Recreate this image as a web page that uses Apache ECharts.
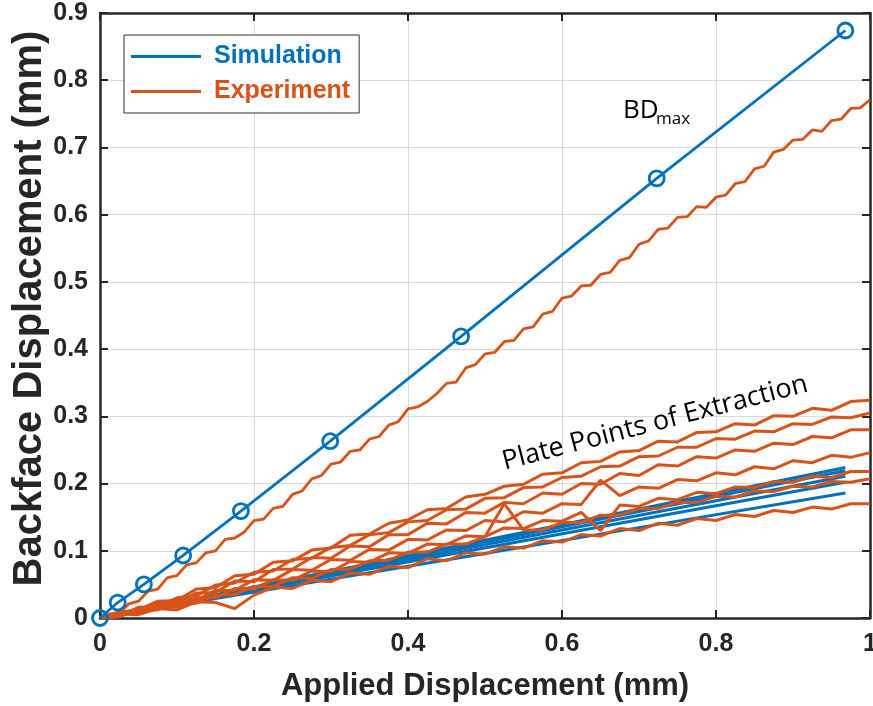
<!DOCTYPE html>
<html>
<head>
<meta charset="utf-8">
<script src="https://cdn.jsdelivr.net/npm/echarts@6/dist/echarts.min.js"></script>
<style>
html,body{margin:0;padding:0;background:#fff;}
#chart{width:873px;height:706px;}
</style>
</head>
<body>
<div id="chart"></div>
<script>
// ---- Data ----
var xTicks = [0, 0.2, 0.4, 0.6, 0.8, 1];
var yTicks = [0, 0.1, 0.2, 0.3, 0.4, 0.5, 0.6, 0.7, 0.8, 0.9];

// Simulation time steps (applied displacement)
var simX = [0, 0.023, 0.057, 0.108, 0.183, 0.299, 0.469, 0.723, 0.968];
// Simulation BDmax
var simMax = [0, 0.023, 0.050, 0.093, 0.159, 0.263, 0.419, 0.654, 0.874];
// Simulation plate points
var simP1 = [0, 0.0053, 0.0132, 0.0250, 0.0424, 0.0692, 0.1085, 0.1673, 0.224];
var simP2 = [0, 0.0052, 0.0129, 0.0244, 0.0414, 0.0677, 0.1061, 0.1636, 0.219];
var simP3 = [0, 0.0050, 0.0124, 0.0235, 0.0399, 0.0652, 0.1022, 0.1576, 0.211];
var simP4 = [0, 0.0048, 0.0119, 0.0225, 0.0382, 0.0624, 0.0979, 0.1509, 0.202];
var simP5 = [0, 0.0044, 0.0110, 0.0207, 0.0352, 0.0575, 0.0901, 0.1389, 0.186];

// Experiment BDmax (x step 0.0125)
var expMaxX = [0,0.0125,0.025,0.0375,0.05,0.0625,0.075,0.0875,0.1,0.1125,0.125,0.1375,0.15,0.1625,0.175,0.1875,0.2,0.2125,0.225,0.2375,0.25,0.2625,0.275,0.2875,0.3,0.3125,0.325,0.3375,0.35,0.3625,0.375,0.3875,0.4,0.4125,0.425,0.4375,0.45,0.4625,0.475,0.4875,0.5,0.5125,0.525,0.5375,0.55,0.5625,0.575,0.5875,0.6,0.6125,0.625,0.6375,0.65,0.6625,0.675,0.6875,0.7,0.7125,0.725,0.7375,0.75,0.7625,0.775,0.7875,0.8,0.8125,0.825,0.8375,0.85,0.8625,0.875,0.8875,0.9,0.9125,0.925,0.9375,0.95,0.9625,0.975,0.9875,1];
var expMax = [0,0.006,0.008,0.021,0.025,0.040,0.043,0.060,0.063,0.079,0.082,0.097,0.100,0.117,0.119,0.128,0.145,0.147,0.163,0.166,0.184,0.189,0.207,0.212,0.229,0.232,0.248,0.250,0.266,0.270,0.287,0.292,0.311,0.314,0.322,0.334,0.349,0.351,0.372,0.377,0.393,0.395,0.411,0.413,0.430,0.433,0.452,0.456,0.476,0.479,0.494,0.495,0.511,0.514,0.532,0.536,0.556,0.561,0.578,0.580,0.596,0.597,0.612,0.611,0.626,0.629,0.646,0.649,0.668,0.672,0.693,0.697,0.711,0.712,0.726,0.724,0.740,0.742,0.758,0.759,0.771];

// Experiment plate points (x step 0.025)
var expPX = [0,0.025,0.05,0.075,0.1,0.125,0.15,0.175,0.2,0.225,0.25,0.275,0.3,0.325,0.35,0.375,0.4,0.425,0.45,0.475,0.5,0.525,0.55,0.575,0.6,0.625,0.65,0.675,0.7,0.725,0.75,0.775,0.8,0.825,0.85,0.875,0.9,0.925,0.95,0.975,1];
var expA = [0,0.009,0.012,0.025,0.026,0.043,0.045,0.063,0.065,0.083,0.085,0.101,0.104,0.123,0.125,0.141,0.146,0.161,0.163,0.180,0.184,0.196,0.199,0.214,0.216,0.231,0.233,0.247,0.249,0.263,0.262,0.276,0.277,0.289,0.287,0.301,0.300,0.312,0.309,0.322,0.324];
var expB = [0,0.003,0.016,0.017,0.030,0.033,0.049,0.052,0.068,0.070,0.087,0.089,0.105,0.108,0.124,0.127,0.143,0.145,0.161,0.162,0.178,0.179,0.194,0.195,0.209,0.211,0.225,0.226,0.240,0.241,0.254,0.254,0.267,0.266,0.278,0.277,0.289,0.288,0.299,0.298,0.305];
var expC = [0,0.008,0.010,0.022,0.021,0.037,0.038,0.055,0.054,0.072,0.073,0.090,0.089,0.107,0.106,0.124,0.124,0.141,0.140,0.157,0.156,0.172,0.170,0.186,0.184,0.200,0.199,0.215,0.212,0.228,0.226,0.240,0.238,0.250,0.248,0.260,0.258,0.270,0.268,0.280,0.280];
var expD = [0,0.002,0.014,0.013,0.026,0.026,0.041,0.041,0.057,0.056,0.072,0.071,0.087,0.086,0.102,0.101,0.117,0.116,0.131,0.130,0.145,0.143,0.158,0.156,0.170,0.169,0.205,0.182,0.195,0.193,0.206,0.204,0.216,0.213,0.225,0.222,0.234,0.231,0.242,0.239,0.246];
var expE = [0,0.007,0.007,0.018,0.016,0.030,0.030,0.044,0.043,0.057,0.056,0.070,0.069,0.084,0.083,0.097,0.096,0.110,0.109,0.122,0.121,0.134,0.133,0.145,0.144,0.157,0.130,0.168,0.166,0.178,0.176,0.187,0.185,0.195,0.194,0.203,0.202,0.211,0.209,0.218,0.218];
var expF = [0,0.002,0.011,0.012,0.021,0.022,0.034,0.035,0.047,0.047,0.060,0.059,0.072,0.073,0.085,0.086,0.098,0.098,0.110,0.110,0.121,0.170,0.131,0.131,0.142,0.142,0.153,0.153,0.163,0.163,0.172,0.172,0.181,0.180,0.189,0.188,0.196,0.195,0.203,0.202,0.207];
var expG = [0,0.006,0.005,0.014,0.012,0.024,0.023,0.014,0.034,0.046,0.044,0.056,0.054,0.067,0.065,0.077,0.075,0.088,0.085,0.097,0.095,0.106,0.104,0.115,0.113,0.124,0.122,0.133,0.130,0.141,0.138,0.148,0.145,0.154,0.151,0.160,0.157,0.165,0.162,0.170,0.170];

// ---- Chart ----
var BLUE = '#0072BD', ORANGE = '#D95319', AX = '#262626';
var FONT = '"Liberation Sans", Arial, sans-serif';

function pairs(xs, ys) { return xs.map(function (x, i) { return [x, ys[i]]; }); }

function lineSeries(name, xs, ys, color, width, z) {
  return {
    name: name, type: 'line', data: pairs(xs, ys), showSymbol: false, symbol: 'none',
    lineStyle: { color: color, width: width }, itemStyle: { color: color },
    z: z, animation: false, silent: true
  };
}

var series = [];
[simP1, simP2, simP3, simP4, simP5].forEach(function (ys) {
  series.push(lineSeries('Simulation', simX, ys, BLUE, 3, 2));
});
[expA, expB, expC, expD, expE, expF, expG].forEach(function (ys) {
  series.push(lineSeries('Experiment', expPX, ys, ORANGE, 3, 3));
});
series.push(lineSeries('Experiment', expMaxX, expMax, ORANGE, 2.8, 4));
series.push({
  name: 'Simulation', type: 'line', data: pairs(simX, simMax),
  symbol: 'circle', symbolSize: 15, showSymbol: true,
  lineStyle: { color: BLUE, width: 2.8 },
  itemStyle: { color: 'rgba(0,0,0,0)', borderColor: BLUE, borderWidth: 2.8 },
  z: 5, animation: false, silent: true
});

var axisLabelStyle = { fontFamily: FONT, fontWeight: 'bold', fontSize: 25, color: AX };

var option = {
  backgroundColor: '#fff',
  animation: false,
  grid: { left: 100, right: 3, top: 13, bottom: 88, containLabel: false, outerBoundsMode: 'none' },
  legend: {
    orient: 'vertical', left: 124, top: 35,
    backgroundColor: '#fff', borderColor: '#333', borderWidth: 1, borderRadius: 0,
    padding: [9, 9, 9, 7], itemWidth: 70, itemHeight: 3, itemGap: 10,
    selectedMode: false,
    textStyle: { fontFamily: FONT, fontWeight: 'bold', fontSize: 25, lineHeight: 24, padding: [0, 0, 0, 8] },
    data: [
      { name: 'Simulation', icon: 'rect', itemStyle: { color: BLUE, borderWidth: 0 }, textStyle: { color: BLUE } },
      { name: 'Experiment', icon: 'rect', itemStyle: { color: ORANGE, borderWidth: 0 }, textStyle: { color: ORANGE } }
    ]
  },
  xAxis: [{
    type: 'value', min: xTicks[0], max: xTicks[xTicks.length - 1], interval: 0.2,
    name: 'Applied Displacement (mm)', nameLocation: 'middle', nameGap: 53,
    nameTextStyle: { fontFamily: FONT, fontWeight: 'bold', fontSize: 31, color: AX },
    axisLine: { show: true, onZero: false, lineStyle: { color: AX, width: 2.5 } },
    axisTick: { show: true, inside: true, length: 8, lineStyle: { color: AX, width: 2 } },
    axisLabel: Object.assign({ margin: 14 }, axisLabelStyle),
    splitLine: { show: true, lineStyle: { color: '#d9d9d9', width: 1 } }
  }, {
    type: 'value', position: 'top', min: 0, max: 1, interval: 0.2,
    axisLine: { show: true, onZero: false, lineStyle: { color: AX, width: 2.5 } },
    axisTick: { show: true, inside: true, length: 8, lineStyle: { color: AX, width: 2 } },
    axisLabel: { show: false }, splitLine: { show: false }
  }],
  yAxis: [{
    type: 'value', min: yTicks[0], max: yTicks[yTicks.length - 1], interval: 0.1,
    name: 'Backface Displacement (mm)', nameLocation: 'middle', nameGap: 50, nameMoveOverlap: false,
    nameTextStyle: { fontFamily: FONT, fontWeight: 'bold', fontSize: 40, color: AX, padding: [0, 0, 0, 14] },
    axisLine: { show: true, onZero: false, lineStyle: { color: AX, width: 2.5 } },
    axisTick: { show: true, inside: true, length: 8, lineStyle: { color: AX, width: 2 } },
    axisLabel: Object.assign({ margin: 12 }, axisLabelStyle),
    splitLine: { show: true, lineStyle: { color: '#d9d9d9', width: 1 } }
  }, {
    type: 'value', position: 'right', min: 0, max: 0.9, interval: 0.1,
    axisLine: { show: true, onZero: false, lineStyle: { color: AX, width: 2.5 } },
    axisTick: { show: true, inside: true, length: 8, lineStyle: { color: AX, width: 2 } },
    axisLabel: { show: false }, splitLine: { show: false }
  }],
  graphic: [
    { type: 'text', x: 623, y: 111, z: 10, silent: true,
      style: { text: 'BD', font: '26px "Open Sans", "Noto Sans", sans-serif', fill: '#000', textAlign: 'left', textVerticalAlign: 'middle' } },
    { type: 'text', x: 656, y: 119, z: 10, silent: true,
      style: { text: 'max', font: '17px "Open Sans", "Noto Sans", sans-serif', fill: '#000', textAlign: 'left', textVerticalAlign: 'middle' } },
    { type: 'text', x: 655, y: 423, rotation: 0.253, z: 10, silent: true,
      style: { text: 'Plate Points of Extraction', font: '27px "Open Sans", "Noto Sans", sans-serif', fill: '#000', textAlign: 'center', textVerticalAlign: 'middle' } }
  ],
  series: series
};

var chart = echarts.init(document.getElementById('chart'), null, { renderer: 'canvas' });
chart.setOption(option);
</script>
</body>
</html>
